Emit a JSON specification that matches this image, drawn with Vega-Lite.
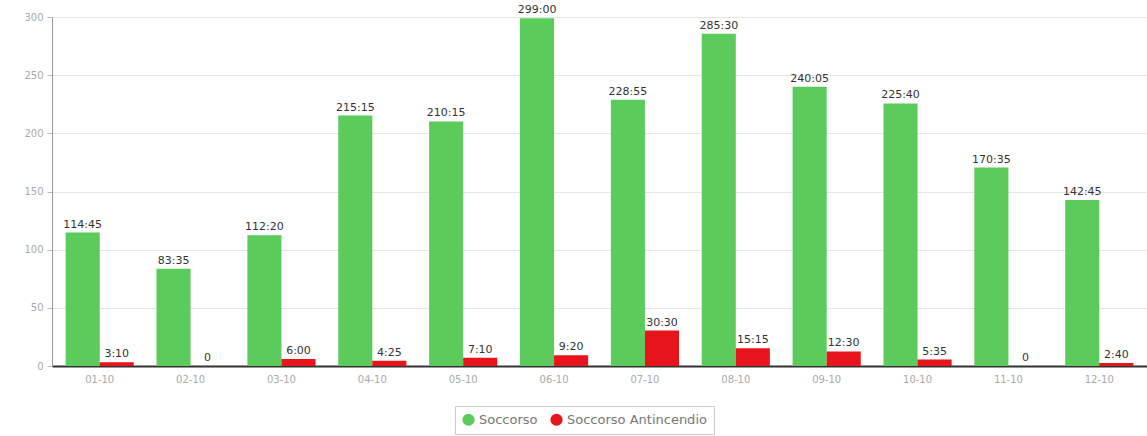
{
  "$schema": "https://vega.github.io/schema/vega-lite/v6.json",
  "autosize": "none",
  "width": 1095,
  "height": 349,
  "padding": {"left": 52, "top": 17, "right": 0, "bottom": 70},
  "background": "white",
  "data": {
    "values": [
      {"mese": "01-10", "serie": "Soccorso", "ore": 114.75, "label": "114:45"},
      {"mese": "01-10", "serie": "Soccorso Antincendio", "ore": 3.17, "label": "3:10"},
      {"mese": "02-10", "serie": "Soccorso", "ore": 83.58, "label": "83:35"},
      {"mese": "02-10", "serie": "Soccorso Antincendio", "ore": 0, "label": "0"},
      {"mese": "03-10", "serie": "Soccorso", "ore": 112.33, "label": "112:20"},
      {"mese": "03-10", "serie": "Soccorso Antincendio", "ore": 6, "label": "6:00"},
      {"mese": "04-10", "serie": "Soccorso", "ore": 215.25, "label": "215:15"},
      {"mese": "04-10", "serie": "Soccorso Antincendio", "ore": 4.42, "label": "4:25"},
      {"mese": "05-10", "serie": "Soccorso", "ore": 210.25, "label": "210:15"},
      {"mese": "05-10", "serie": "Soccorso Antincendio", "ore": 7.17, "label": "7:10"},
      {"mese": "06-10", "serie": "Soccorso", "ore": 299, "label": "299:00"},
      {"mese": "06-10", "serie": "Soccorso Antincendio", "ore": 9.33, "label": "9:20"},
      {"mese": "07-10", "serie": "Soccorso", "ore": 228.92, "label": "228:55"},
      {"mese": "07-10", "serie": "Soccorso Antincendio", "ore": 30.5, "label": "30:30"},
      {"mese": "08-10", "serie": "Soccorso", "ore": 285.5, "label": "285:30"},
      {"mese": "08-10", "serie": "Soccorso Antincendio", "ore": 15.25, "label": "15:15"},
      {"mese": "09-10", "serie": "Soccorso", "ore": 240.08, "label": "240:05"},
      {"mese": "09-10", "serie": "Soccorso Antincendio", "ore": 12.5, "label": "12:30"},
      {"mese": "10-10", "serie": "Soccorso", "ore": 225.67, "label": "225:40"},
      {"mese": "10-10", "serie": "Soccorso Antincendio", "ore": 5.58, "label": "5:35"},
      {"mese": "11-10", "serie": "Soccorso", "ore": 170.58, "label": "170:35"},
      {"mese": "11-10", "serie": "Soccorso Antincendio", "ore": 0, "label": "0"},
      {"mese": "12-10", "serie": "Soccorso", "ore": 142.75, "label": "142:45"},
      {"mese": "12-10", "serie": "Soccorso Antincendio", "ore": 2.67, "label": "2:40"}
    ]
  },
  "encoding": {
    "x": {
      "field": "mese", "type": "nominal", "sort": null,
      "scale": {"paddingInner": 0.25, "paddingOuter": 0.15},
      "axis": {"title": null, "labelAngle": 0, "labelColor": "#aaaaaa", "labelFont": "DejaVu Sans", "labelFontSize": 10, "labelPadding": 8, "ticks": false, "domainColor": "#333333", "domainWidth": 2, "grid": false}
    },
    "xOffset": {"field": "serie", "type": "nominal", "sort": ["Soccorso", "Soccorso Antincendio"]},
    "y": {
      "field": "ore", "type": "quantitative",
      "scale": {"domain": [0, 300], "nice": false},
      "axis": {"title": null, "values": [0, 50, 100, 150, 200, 250, 300], "labelColor": "#aaaaaa", "labelFont": "DejaVu Sans", "labelFontSize": 10, "gridColor": "#e6e6e6", "domainColor": "#999999", "tickColor": "#bbbbbb", "tickSize": 5, "labelPadding": 4}
    }
  },
  "layer": [
    {
      "mark": {"type": "bar"},
      "encoding": {
        "color": {
          "field": "serie", "type": "nominal",
          "scale": {"domain": ["Soccorso", "Soccorso Antincendio"], "range": ["#5bcc5b", "#e8141b"]},
          "legend": {
            "title": null, "orient": "none", "legendX": 403, "legendY": 389, "direction": "horizontal",
            "symbolType": "circle", "symbolSize": 150, "symbolStrokeWidth": 0,
            "labelFont": "DejaVu Sans", "labelFontSize": 13, "labelColor": "#777777",
            "strokeColor": "#cccccc", "padding": 7, "columnPadding": 12
          }
        }
      }
    },
    {
      "mark": {"type": "text", "dy": -8, "font": "DejaVu Sans", "fontSize": 11, "color": "#333333"},
      "encoding": {"text": {"field": "label"}}
    }
  ],
  "config": {"view": {"stroke": null}}
}
